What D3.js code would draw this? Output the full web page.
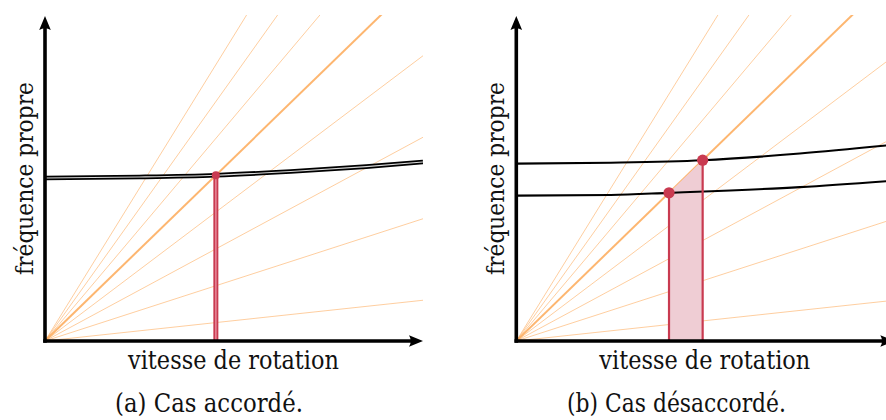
<!DOCTYPE html>
<html>
<head>
<meta charset="utf-8">
<script src="https://cdn.jsdelivr.net/npm/d3@7"></script>
<style>
  html, body { margin: 0; padding: 0; background: #fff; }
  svg { display: block; }
</style>
</head>
<body>
<svg id="chart" width="886" height="420"></svg>
<script>
// ---- data (speed and frequency in normalised units) ----
const orders = [0.125, 0.375, 0.625, 0.875, 1.125, 1.375, 1.625, 1.875];
const highlightedOrder = 1.125;

// panel (a): tuned case, both modes coincide
const tunedSpeed = [0, 0.25, 0.452, 0.65, 0.85, 1.0];
const tunedFreq  = [0.500, 0.503, 0.5085, 0.520, 0.535, 0.549];
const tunedCrossing = [0.452];

// panel (b): detuned case, two separated modes
const upperSpeed = [0, 0.25, 0.493, 0.75, 1.0];
const upperFreq  = [0.544, 0.547, 0.5546, 0.575, 0.602];
const lowerSpeed = [0, 0.25, 0.404, 0.75, 1.0];
const lowerFreq  = [0.446, 0.448, 0.4545, 0.472, 0.492];
const detunedCrossings = [0.404, 0.493];

const xLabel = "vitesse de rotation";
const yLabel = "fréquence propre";
const captions = ["(a) Cas accordé.", "(b) Cas désaccordé."];

// ---- drawing ----
const FONT = "'DejaVu Serif', 'Liberation Serif', 'Noto Serif', serif";
const STRETCH = 1.15;
const svg = d3.select("#chart");
const W = 378, H = 326, topY = 15;
const x = d3.scaleLinear().domain([0, 1]).range([0, W]);
const y = d3.scaleLinear().domain([0, 1]).range([H, 0]);

const RED = "#c93a50";
const ORANGE = "#fdae61";

const line = d3.line().x(d => x(d[0])).y(d => y(d[1])).curve(d3.curveMonotoneX);
const straight = d3.line().x(d => x(d[0])).y(d => y(d[1]));

const defs = svg.append("defs");

function arrowHead(g, tx, ty, angle) {
  g.append("path")
    .attr("d", "M0,0 L-14,-5.8 Q-10.5,0 -14,5.8 Z")
    .attr("transform", `translate(${tx},${ty}) rotate(${angle})`)
    .attr("fill", "#000");
}

function panel(idx, ox) {
  const g = svg.append("g").attr("transform", `translate(${ox},${topY})`);
  const cid = "clip" + idx;
  defs.append("clipPath").attr("id", cid)
    .append("rect").attr("x", 0).attr("y", 0).attr("width", W).attr("height", H);
  const plot = g.append("g").attr("clip-path", `url(#${cid})`);

  // fan of order lines
  plot.selectAll("path.order").data(orders).enter().append("path")
    .attr("class", "order")
    .attr("d", o => straight([[0, 0], [1.2, o * 1.2]]))
    .attr("fill", "none")
    .attr("stroke", ORANGE)
    .attr("stroke-width", o => o === highlightedOrder ? 2 : 1)
    .attr("stroke-opacity", o => o === highlightedOrder ? 0.9 : 0.6);
  return { g, plot };
}

function axes(g) {
  g.append("line").attr("x1", x(0) - 1.8).attr("y1", y(0)).attr("x2", x(1) - 6).attr("y2", y(0))
    .attr("stroke", "#000").attr("stroke-width", 3.6);
  g.append("line").attr("x1", x(0)).attr("y1", y(0) + 1.8).attr("x2", x(0)).attr("y2", y(1) + 6)
    .attr("stroke", "#000").attr("stroke-width", 3.6);
  arrowHead(g, x(1), y(0), 0);
  arrowHead(g, x(0), y(1) + 1, -90);
}

// text sized so that its natural width matches the reference width,
// placed by a transform (translate, optional rotation, slight vertical stretch)
function addText(str, width, tx, ty, rot) {
  const t = svg.append("text").attr("font-family", FONT).attr("font-size", 24)
    .attr("fill", "#111").attr("text-anchor", "middle").attr("x", 0).attr("y", 0).text(str);
  const w = t.node().getComputedTextLength();
  if (w > 0) t.attr("font-size", 24 * width / w);
  t.attr("transform", `translate(${tx},${ty}) rotate(${rot}) scale(1,${STRETCH})`);
  return t;
}

function labels(ox, caption, capX, capW) {
  addText(xLabel, 211, ox + 188.5, 369, 0);
  addText(yLabel, 193, ox - 12, 178.5, -90);
  addText(caption, capW, capX, 412, 0);
}

// ---- panel (a) ----
const oxA = 45;
const A = panel(0, oxA);
const tuned = tunedSpeed.map((s, i) => [s, tunedFreq[i]]);
A.plot.append("path").attr("d", line(tuned)).attr("fill", "none")
  .attr("stroke", "#000").attr("stroke-width", 4.6);
A.plot.append("path").attr("d", line(tuned)).attr("fill", "none")
  .attr("stroke", "#fff").attr("stroke-width", 1.1).attr("stroke-opacity", 0.85);
tunedCrossing.forEach(s => {
  const f = highlightedOrder * s;
  A.g.append("line").attr("x1", x(s)).attr("x2", x(s)).attr("y1", y(f)).attr("y2", y(0))
    .attr("stroke", RED).attr("stroke-width", 5);
  A.g.append("line").attr("x1", x(s)).attr("x2", x(s)).attr("y1", y(f) + 3).attr("y2", y(0))
    .attr("stroke", "#e58596").attr("stroke-width", 1.6);
  A.g.append("circle").attr("cx", x(s)).attr("cy", y(f)).attr("r", 4).attr("fill", RED);
});
axes(A.g);
labels(oxA, captions[0], 209, 188);

// ---- panel (b) ----
const oxB = 516.3;
const B = panel(1, oxB);
const area = d3.area().x(s => x(s)).y0(y(0)).y1(s => y(highlightedOrder * s));
B.plot.append("path").attr("d", area(detunedCrossings)).attr("fill", "#efcdd4");
[upperSpeed.map((s, i) => [s, upperFreq[i]]), lowerSpeed.map((s, i) => [s, lowerFreq[i]])]
  .forEach(c => {
    B.plot.append("path").attr("d", line(c)).attr("fill", "none")
      .attr("stroke", "#000").attr("stroke-width", 2.1);
  });
detunedCrossings.forEach(s => {
  const f = highlightedOrder * s;
  B.g.append("line").attr("x1", x(s)).attr("x2", x(s)).attr("y1", y(f)).attr("y2", y(0))
    .attr("stroke", RED).attr("stroke-width", 2.2);
});
detunedCrossings.forEach(s => {
  B.g.append("circle").attr("cx", x(s)).attr("cy", y(highlightedOrder * s)).attr("r", 5.6).attr("fill", RED);
});
axes(B.g);
labels(oxB, captions[1], 676.5, 219);
</script>
</body>
</html>
